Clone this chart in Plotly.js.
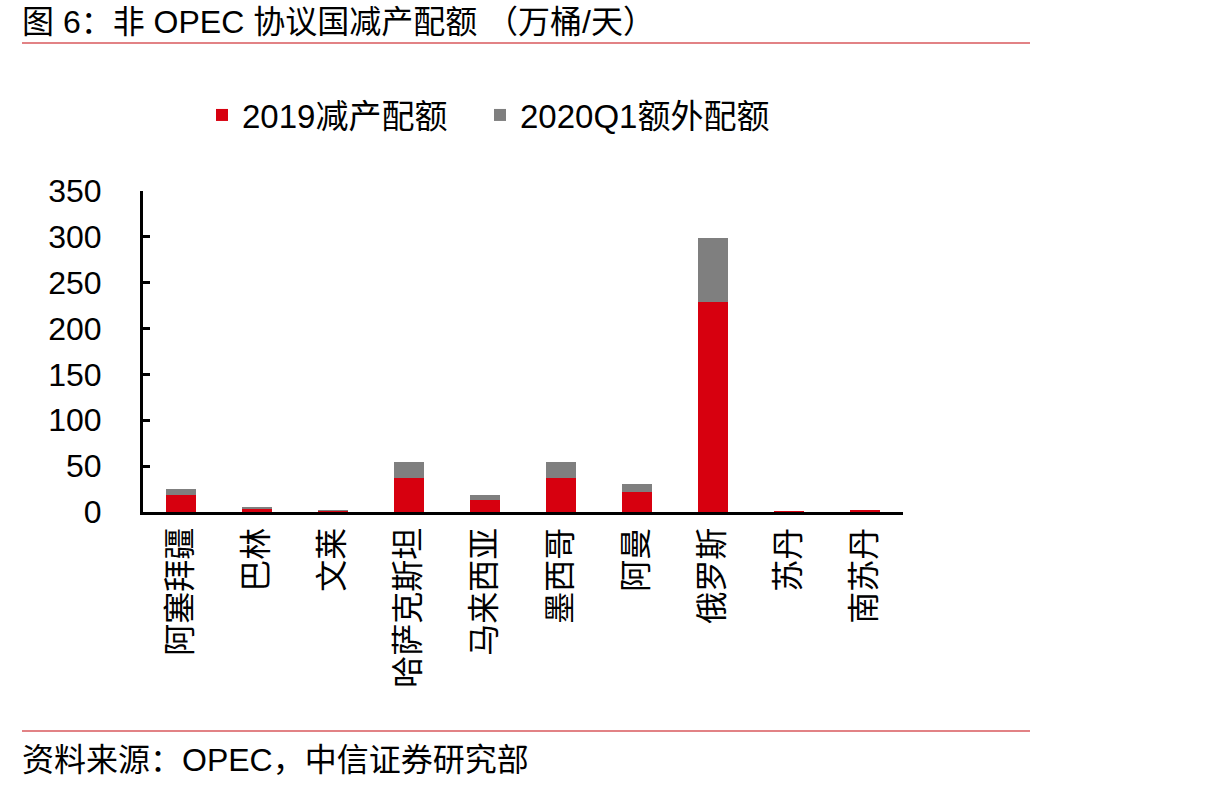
<!DOCTYPE html>
<html>
<head>
<meta charset="utf-8">
<script src="https://cdn.plot.ly/plotly-3.0.1.min.js"></script>
<style>
  html, body { margin: 0; padding: 0; background: #ffffff; }
  #chart { width: 1207px; height: 791px; }
</style>
</head>
<body>
<div id="chart"></div>
<script>
// Non-OPEC cut quotas, 10k barrels per day
const countries = ['阿塞拜疆', '巴林', '文莱', '哈萨克斯坦', '马来西亚', '墨西哥', '阿曼', '俄罗斯', '苏丹', '南苏丹'];
const cut2019 = [18, 3, 1, 37, 13, 37, 22, 229, 1, 2];
const extra2020Q1 = [7, 2, 1, 17, 5, 18, 9, 70, 0.5, 0];
const seriesNames = ['2019减产配额', '2020Q1额外配额'];
const yTicks = [0, 50, 100, 150, 200, 250, 300, 350];

const W = 1207, H = 791;
const plotL = 143, plotR = 903, plotT = 191, plotB = 512;
const FONT = '"Liberation Sans", Arial, "Noto Sans CJK SC", sans-serif';

// pixel -> paper helpers for the header/footer decorations
const px = x => (x - plotL) / (plotR - plotL);
const py = y => (plotB - y) / (plotB - plotT);

const traces = [
  {
    type: 'bar', name: seriesNames[0], x: countries, y: cut2019, legend: 'legend',
    marker: { color: '#D7000F', line: { width: 0 } }
  },
  {
    type: 'bar', name: seriesNames[1], x: countries, y: extra2020Q1, legend: 'legend2',
    marker: { color: '#7F7F7F', line: { width: 0 } }
  }
];

const legendBase = {
  orientation: 'h', xanchor: 'left', yanchor: 'middle', y: py(115),
  font: { family: FONT, size: 33, color: '#000000' },
  itemclick: false, bgcolor: 'rgba(0,0,0,0)'
};

const layout = {
  width: W, height: H,
  margin: { l: plotL, r: W - plotR, t: plotT, b: H - plotB, pad: 0 },
  paper_bgcolor: '#ffffff', plot_bgcolor: '#ffffff',
  barmode: 'stack', bargap: 0.6,
  font: { family: FONT, size: 32, color: '#000000' },
  showlegend: true,
  legend: Object.assign({}, legendBase, { x: px(202) }),
  legend2: Object.assign({}, legendBase, { x: px(480) }),
  xaxis: {
    type: 'category', showline: true, linecolor: '#000000', linewidth: 3,
    ticks: '', tickangle: -90, showgrid: false, zeroline: false,
    tickfont: { family: FONT, size: 32, color: '#000000' }, fixedrange: true
  },
  yaxis: {
    range: [0, 350], tickvals: yTicks, ticktext: yTicks.map(String),
    showline: true, linecolor: '#000000', linewidth: 3,
    ticks: 'inside', ticklen: 7, tickwidth: 3, tickcolor: '#000000',
    ticklabelstandoff: 32,
    showgrid: false, zeroline: false,
    tickfont: { family: FONT, size: 32, color: '#000000' }, fixedrange: true
  },
  shapes: [
    { type: 'line', xref: 'paper', yref: 'paper', x0: px(22), x1: px(1030), y0: py(43), y1: py(43),
      line: { color: '#D9595C', width: 1.5 } },
    { type: 'line', xref: 'paper', yref: 'paper', x0: px(22), x1: px(1030), y0: py(731), y1: py(731),
      line: { color: '#D9595C', width: 1.5 } }
  ],
  annotations: [
    { xref: 'paper', yref: 'paper', x: px(20), y: py(22), xanchor: 'left', yanchor: 'middle',
      text: '图 6：非 OPEC 协议国减产配额 （万桶/天）', showarrow: false,
      font: { family: FONT, size: 32, color: '#000000' } },
    { xref: 'paper', yref: 'paper', x: px(20), y: py(760), xanchor: 'left', yanchor: 'middle',
      text: '资料来源：OPEC，中信证券研究部', showarrow: false,
      font: { family: FONT, size: 32, color: '#000000' } }
  ]
};

Plotly.newPlot('chart', traces, layout, { displayModeBar: false, staticPlot: true });
</script>
</body>
</html>
